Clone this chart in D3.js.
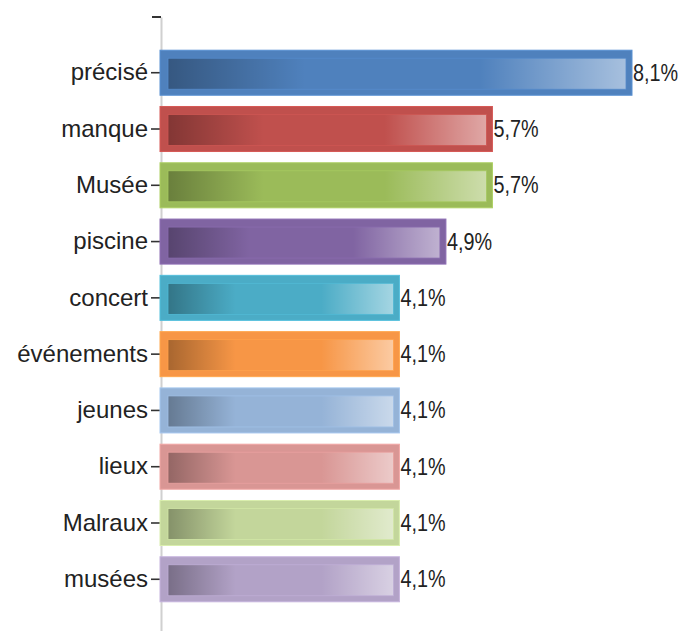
<!DOCTYPE html>
<html>
<head>
<meta charset="utf-8">
<script src="https://cdn.jsdelivr.net/npm/d3@7"></script>
<style>
    body { margin: 0; background: #fff; }
    svg { display: block; font-family: "Liberation Sans", Arial, sans-serif; }
</style>
</head>
<body>
<div id="chart"></div>
<script>
const categories = ["précisé", "manque", "Musée", "piscine", "concert", "événements", "jeunes", "lieux", "Malraux", "musées"];
const values = [8.1, 5.7, 5.7, 4.9, 4.1, 4.1, 4.1, 4.1, 4.1, 4.1];
const valueLabels = ["8,1%", "5,7%", "5,7%", "4,9%", "4,1%", "4,1%", "4,1%", "4,1%", "4,1%", "4,1%"];
const barColors = ["#4f81bd", "#c0504d", "#9bbb59", "#8064a2", "#4bacc6", "#f79646", "#95b3d7", "#d99694", "#c3d69b", "#b2a2c7"];

const width = 685, height = 631;
const left = 161;

const data = categories.map((c, i) => ({ name: c, value: values[i], label: valueLabels[i], color: barColors[i] }));

const svg = d3.select("#chart").append("svg")
    .attr("width", width)
    .attr("height", height);

// overlay gradient: darker on the left, lighter on the right
const defs = svg.append("defs");
const grad = defs.append("linearGradient").attr("id", "shade");
grad.append("stop").attr("offset", "0%").attr("stop-color", "#000").attr("stop-opacity", 0.32);
grad.append("stop").attr("offset", "30%").attr("stop-color", "#000").attr("stop-opacity", 0);
grad.append("stop").attr("offset", "68%").attr("stop-color", "#fff").attr("stop-opacity", 0);
grad.append("stop").attr("offset", "100%").attr("stop-color", "#fff").attr("stop-opacity", 0.5);

const x = d3.scaleLinear()
    .domain([0, 8.1])
    .range([left, left + 471]);

const y = d3.scaleBand()
    .domain(categories)
    .range([17, 635])
    .paddingInner(0.2)
    .paddingOuter(0.59);

// axis
const axis = svg.append("g")
    .attr("transform", `translate(${left},0)`)
    .call(d3.axisLeft(y).tickSize(10).tickSizeOuter(0).tickPadding(3));
axis.select(".domain").attr("stroke", "#d0d0d0").attr("stroke-width", 2);
axis.selectAll(".tick line").attr("stroke", "#333").attr("stroke-width", 1.6);
axis.selectAll(".tick text")
    .attr("fill", "#222")
    .style("font-size", "24px")
    .style("font-family", "'Liberation Sans', Arial, sans-serif");

svg.append("line")
    .attr("x1", left - 9).attr("x2", left)
    .attr("y1", y.range()[0]).attr("y2", y.range()[0])
    .attr("stroke", "#333").attr("stroke-width", 2);

const bars = svg.selectAll(".bar")
    .data(data)
    .enter()
    .append("g")
    .attr("class", "bar");

bars.append("rect")
    .attr("x", x(0) - 1)
    .attr("y", d => y(d.name))
    .attr("width", d => x(d.value) - x(0) + 1)
    .attr("height", y.bandwidth())
    .attr("fill", d => d.color)
    .attr("stroke", d => d3.color(d.color).brighter(0.3))
    .attr("stroke-width", 1);

bars.append("rect")
    .attr("x", x(0) + 7)
    .attr("y", d => y(d.name) + 8)
    .attr("width", d => x(d.value) - x(0) - 13)
    .attr("height", y.bandwidth() - 14)
    .attr("fill", "url(#shade)")
    .attr("stroke", d => d3.color(d.color).brighter(0.2))
    .attr("stroke-width", 0.8);

bars.append("text")
    .attr("x", d => x(d.value) + 1)
    .attr("y", d => y(d.name) + y.bandwidth() / 2)
    .attr("dy", "0.35em")
    .attr("fill", "#222")
    .style("font-size", "23px")
    .text(d => d.label)
    .each(function() {
        const w = this.getComputedTextLength();
        d3.select(this).attr("textLength", w * 0.86).attr("lengthAdjust", "spacingAndGlyphs");
    });
</script>
</body>
</html>
